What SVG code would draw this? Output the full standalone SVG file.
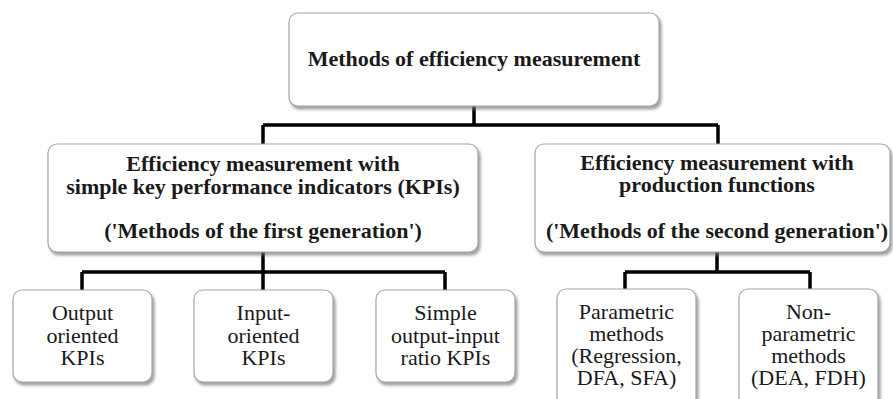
<svg xmlns="http://www.w3.org/2000/svg" width="893" height="399" viewBox="0 0 893 399">
<defs>
<filter id="sh" x="-10%" y="-10%" width="125%" height="130%">
<feDropShadow dx="2" dy="3" stdDeviation="1.5" flood-color="#777" flood-opacity="0.7"/>
</filter>
</defs>
<style>
.box{fill:#fff;stroke:#a6a6a6;stroke-width:1.2;filter:url(#sh)}
text{font-family:'Liberation Serif','Tinos','DejaVu Serif',serif;fill:#1a1a1a;text-anchor:middle;font-size:22px}
.b{font-weight:bold}
.c{fill:none;stroke:#000;stroke-width:3.5}
</style>
<rect width="893" height="399" fill="#fff"/>
<g id="connectors">
<path class="c" d="M474,106 V125 M263,125 H718 M263,125 V144 M718,125 V144"/>
<path class="c" d="M263,252 V272 M82,272 H445 M82,272 V290 M263,272 V290 M445,272 V290"/>
<path class="c" d="M717,252 V272 M625,272 H810 M625,272 V289 M810,272 V289"/>
</g>
<g id="root">
<rect class="box" x="289" y="13" width="370" height="93" rx="9"/>
<text class="b" x="474" y="66" font-family="Liberation Serif, serif">Methods of efficiency measurement</text>
</g>
<g id="kpi">
<rect class="box" x="48" y="144" width="430" height="108" rx="9"/>
<text class="b" x="263" y="171">Efficiency measurement with</text>
<text class="b" x="263" y="194">simple key performance indicators (KPIs)</text>
<text class="b" x="263" y="238">('Methods of the first generation')</text>
</g>
<g id="prod">
<rect class="box" x="535" y="144" width="355" height="108" rx="9"/>
<text class="b" x="717" y="170">Efficiency measurement with</text>
<text class="b" x="717" y="192">production functions</text>
<text class="b" x="717" y="238">('Methods of the second generation')</text>
</g>
<g id="output">
<rect class="box" x="13" y="290" width="139" height="92" rx="9"/>
<text x="82.5" y="320">Output</text>
<text x="82.5" y="343">oriented</text>
<text x="82.5" y="365">KPIs</text>
</g>
<g id="input">
<rect class="box" x="194" y="290" width="139" height="92" rx="9"/>
<text x="263.5" y="320">Input-</text>
<text x="263.5" y="343">oriented</text>
<text x="263.5" y="365">KPIs</text>
</g>
<g id="ratio">
<rect class="box" x="376" y="290" width="139" height="92" rx="9"/>
<text x="445.5" y="320">Simple</text>
<text x="445.5" y="343">output-input</text>
<text x="445.5" y="365">ratio KPIs</text>
</g>
<g id="parametric">
<rect class="box" x="557" y="289" width="139" height="118" rx="9"/>
<text x="626.5" y="319">Parametric</text>
<text x="626.5" y="341">methods</text>
<text x="626.5" y="363">(Regression,</text>
<text x="626.5" y="385">DFA, SFA)</text>
</g>
<g id="nonparametric">
<rect class="box" x="739" y="289" width="139" height="118" rx="9"/>
<text x="808.5" y="319">Non-</text>
<text x="808.5" y="341">parametric</text>
<text x="808.5" y="363">methods</text>
<text x="808.5" y="385">(DEA, FDH)</text>
</g>
</svg>
